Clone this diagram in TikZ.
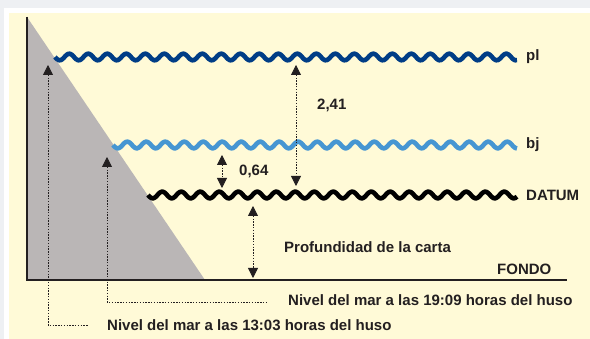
\documentclass[tikz,border=0pt]{standalone}
\usepackage{fontspec}
\setmainfont{Liberation Sans}
\usepackage{tikz}
\usetikzlibrary{arrows.meta,positioning}
\definecolor{marco}{HTML}{EEF0F3}
\definecolor{crema}{HTML}{FFFAD7}
\definecolor{roca}{HTML}{BAB6B6}
\definecolor{plcol}{HTML}{003D86}
\definecolor{bjcol}{HTML}{4696D2}
\definecolor{tinta}{HTML}{231F20}

\begin{document}
\begin{tikzpicture}[x=1pt,y=-1pt,
	font=\fontsize{15}{17}\selectfont\bfseries,text=tinta,
	wave/.style={line width=4.6pt,line join=round},
	lbl/.style={anchor=west,inner sep=0pt},
	cota/.style={tinta,line width=0.8pt,dash pattern=on 1.4pt off 1.4pt,
		{Triangle[width=10pt,length=10pt]}-{Triangle[width=10pt,length=10pt]}},
	guia/.style={tinta,line width=0.8pt,dash pattern=on 1.4pt off 1.4pt,
		{Triangle[width=10pt,length=10pt]}-},
	]
	\useasboundingbox (0,0) rectangle (590,339);
	\fill[marco] (0,0) rectangle (590,339);
	\fill[white] (4,8) rectangle (590,339);
	\fill[crema] (9,13) rectangle (590,339);
	
	% fondo y costa
	\coordinate (cima) at (27,17);
	\coordinate (orig) at (27,280);
	\coordinate (pie) at (205,280);
	\coordinate (fin) at (567,280);
	\fill[roca] (cima) -- (pie) -- (orig) -- cycle;
	\draw[tinta,line width=1.2pt] (cima) -- (orig) -- (fin);
	\node[lbl,anchor=south west] (fondo) at (497,275) {FONDO};
	
	% niveles
	\foreach \n/\y/\xs/\col/\txt in {pl/57/55/plcol/pl,bj/145/113/bjcol/bj,datum/195/148/black/DATUM}{
		\draw[wave,\col] plot[domain=\xs:517,samples=220] (\x,{\y+3.4*sin((\x-\xs)*18.947)});
		\node[lbl] (\n) at (526,\y) {\txt};
	}
	
	% cotas
	\coordinate (a1) at (296,65);
	\coordinate (a2) at (296,186);
	\draw[cota] (a1) -- (a2);
	\node[lbl] (c241) at (317,105) {2,41};
	\coordinate (b1) at (222,155);
	\coordinate (b2) at (222,188);
	\draw[cota] (b1) -- (b2);
	\node[lbl] (c064) at (239,171) {0,64};
	\coordinate (d1) at (253,206);
	\coordinate (d2) at (253,278);
	\draw[cota] (d1) -- (d2);
	\node[lbl] (prof) at (284,247) {Profundidad de la carta};
	
	% lecturas
	\coordinate (e1) at (48,65);
	\coordinate (e2) at (48,325);
	\coordinate (e3) at (88,325);
	\draw[guia] (e1) -- (e2) -- (e3);
	\node[lbl] (h1303) at (107,325) {Nivel del mar a las 13:03 horas del huso};
	\coordinate (f1) at (107,157);
	\coordinate (f2) at (107,302);
	\coordinate (f3) at (268,302);
	\draw[guia] (f1) -- (f2) -- (f3);
	\node[lbl] (h1909) at (288,300) {Nivel del mar a las 19:09 horas del huso};
\end{tikzpicture}
\end{document}
